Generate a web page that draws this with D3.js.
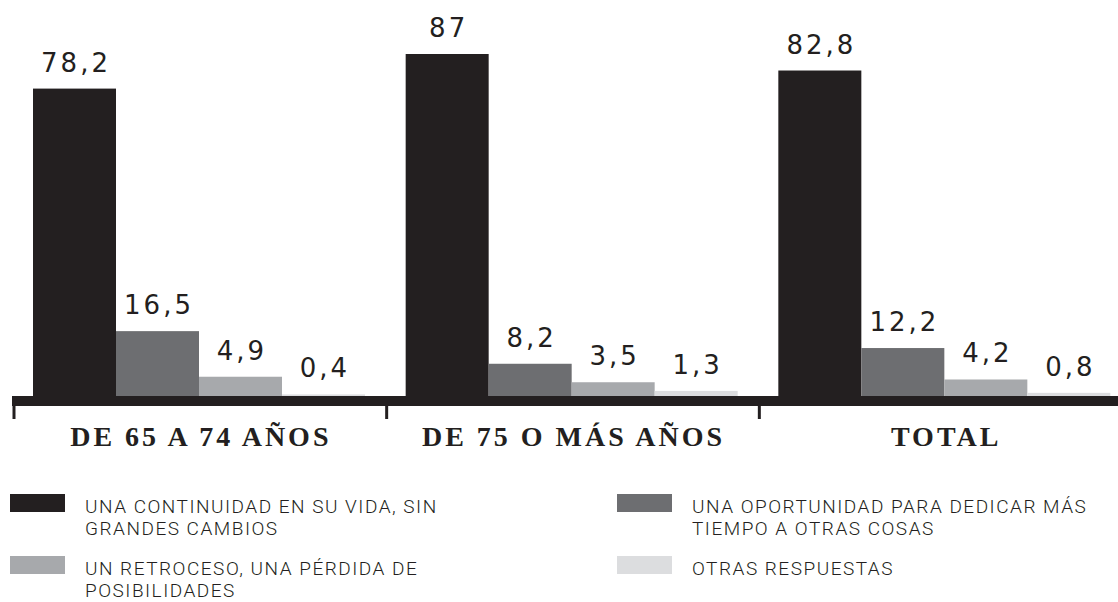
<!DOCTYPE html>
<html>
<head>
<meta charset="utf-8">
<script src="https://cdn.jsdelivr.net/npm/d3@7"></script>
<style>
  html, body { margin: 0; padding: 0; background: #fff; }
  svg { display: block; }
</style>
</head>
<body>
<div id="chart"></div>
<script>
/**
 * Data
 */
const groups = ["DE 65 A 74 AÑOS", "DE 75 O MÁS AÑOS", "TOTAL"];
const series = [
  "UNA CONTINUIDAD EN SU VIDA, SIN GRANDES CAMBIOS",
  "UNA OPORTUNIDAD PARA DEDICAR MÁS TIEMPO A OTRAS COSAS",
  "UN RETROCESO, UNA PÉRDIDA DE POSIBILIDADES",
  "OTRAS RESPUESTAS"
];
const legendLines = [
  ["UNA CONTINUIDAD EN SU VIDA, SIN", "GRANDES CAMBIOS"],
  ["UNA OPORTUNIDAD PARA DEDICAR MÁS", "TIEMPO A OTRAS COSAS"],
  ["UN RETROCESO, UNA PÉRDIDA DE", "POSIBILIDADES"],
  ["OTRAS RESPUESTAS"]
];
const continuidad = [78.2, 87, 82.8];
const oportunidad = [16.5, 8.2, 12.2];
const retroceso = [4.9, 3.5, 4.2];
const otras = [0.4, 1.3, 0.8];
const colors = ["#231f20", "#6d6e71", "#a7a9ac", "#dcdddf"];

const values = [continuidad, oportunidad, retroceso, otras];
const rows = [];
groups.forEach(function (g, gi) {
  series.forEach(function (s, si) {
    rows.push({ group: g, series: s, si: si, value: values[si][gi] });
  });
});

/**
 * Layout
 */
const W = 1118, H = 602;
const base = 396;

const svg = d3.select("#chart").append("svg")
  .attr("width", W).attr("height", H);

const x0 = d3.scaleBand().domain(groups).range([13, 1131]);
const x1 = d3.scaleBand().domain(series).range([20, 352]);
const y = d3.scaleLinear().domain([0, 87]).range([base, 54]);
const color = d3.scaleOrdinal().domain(series).range(colors);

// bars
svg.append("g").selectAll("rect")
  .data(rows)
  .join("rect")
  .attr("x", function (d) { return x0(d.group) + x1(d.series); })
  .attr("y", function (d) { return y(d.value); })
  .attr("width", x1.bandwidth())
  .attr("height", function (d) { return base - y(d.value); })
  .attr("fill", function (d) { return color(d.series); });

// value labels
svg.append("g").selectAll("text")
  .data(rows)
  .join("text")
  .attr("x", function (d) { return x0(d.group) + x1(d.series) + x1.bandwidth() / 2 + 1.5; })
  .attr("y", function (d) { return y(d.value) - 17; })
  .attr("text-anchor", "middle")
  .style("font-family", "'DejaVu Sans', sans-serif")
  .style("font-size", "26px")
  .style("letter-spacing", "3px")
  .attr("fill", "#231f20")
  .text(function (d) { return String(d.value).replace(".", ","); });

// axis band
svg.append("rect")
  .attr("x", 12).attr("y", base)
  .attr("width", W - 12).attr("height", 10)
  .attr("fill", "#231f20");

// group ticks
svg.append("g").selectAll("line")
  .data(groups)
  .join("line")
  .attr("x1", function (d) { return x0(d) + 1; })
  .attr("x2", function (d) { return x0(d) + 1; })
  .attr("y1", base + 8)
  .attr("y2", 419)
  .attr("stroke", "#231f20")
  .attr("stroke-width", 3);

// group labels
svg.append("g").selectAll("text")
  .data(groups)
  .join("text")
  .attr("x", function (d) { return x0(d) + x0.bandwidth() / 2 + 1.5; })
  .attr("y", 446)
  .attr("text-anchor", "middle")
  .style("font-family", "'Liberation Serif', 'Times New Roman', serif")
  .style("font-weight", "bold")
  .style("font-size", "28px")
  .style("letter-spacing", "3px")
  .attr("fill", "#231f20")
  .text(function (d) { return d; });

// legend
const legendPos = [[10, 494], [617, 494], [10, 556], [617, 556]];
const leg = svg.append("g").selectAll("g")
  .data(series)
  .join("g")
  .attr("transform", function (d, i) {
    return "translate(" + legendPos[i][0] + "," + legendPos[i][1] + ")";
  });

leg.append("rect")
  .attr("width", 55).attr("height", 18)
  .attr("fill", function (d) { return color(d); });

leg.append("text")
  .attr("x", 75)
  .attr("y", 19)
  .style("font-family", "Roboto, 'Liberation Sans', sans-serif")
  .style("font-weight", "300")
  .style("font-size", "19px")
  .style("letter-spacing", "1.5px")
  .attr("fill", "#231f20")
  .selectAll("tspan")
  .data(function (d, i) { return legendLines[i]; })
  .join("tspan")
  .attr("x", 75)
  .attr("dy", function (d, i) { return i === 0 ? 0 : 22; })
  .text(function (d) { return d; });
</script>
</body>
</html>
